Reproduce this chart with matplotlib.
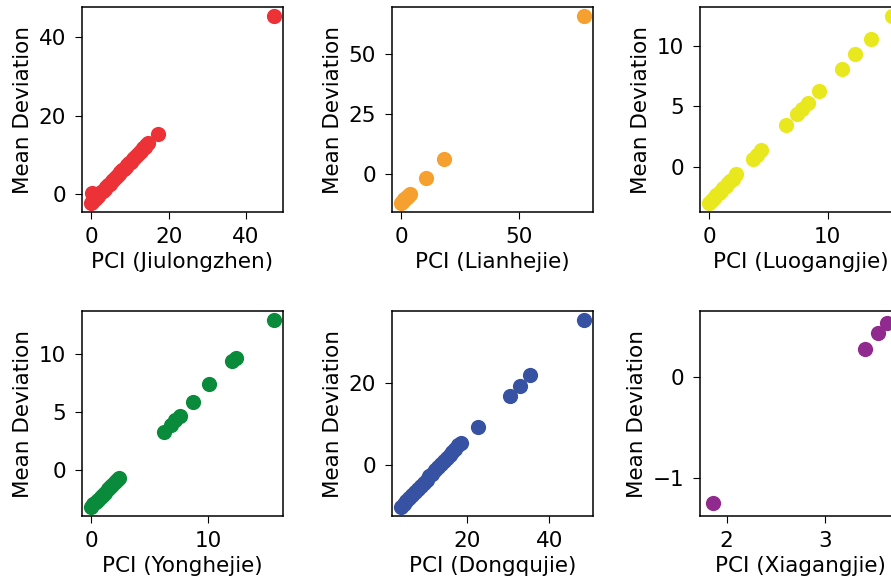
import matplotlib
matplotlib.use('Agg')
import matplotlib.pyplot as plt

# PCI vs Mean Deviation for six sites
jiu_x = [0.0, 0.1, 0.3, 0.6, 0.9, 1.3, 1.7, 2.1, 2.6, 3.0, 3.5, 3.9, 4.4, 4.8, 5.3, 5.7, 6.2, 6.6, 7.1,
         7.5, 8.0, 8.4, 8.9, 9.3, 9.8, 10.2, 10.7, 11.1, 11.6, 12.0, 12.5, 12.9, 13.4, 13.8, 14.3, 14.7, 17.2, 47.2]
jiu_y = [-2.3, 0.2, -2.0, -1.7, -1.4, -1.0, -0.6, -0.2, 0.4, 0.8, 1.3, 1.7, 2.2, 2.6, 3.2, 3.6, 4.1, 4.5, 5.1,
         5.5, 6.0, 6.4, 6.9, 7.3, 7.8, 8.2, 8.8, 9.2, 9.7, 10.1, 10.6, 11.0, 11.6, 12.0, 12.5, 12.9, 15.3, 45.4]

lian_x = [0.0, 0.4, 0.9, 1.4, 1.9, 2.4, 2.9, 3.4, 3.9, 10.7, 18.4, 77.8]
lian_y = [-11.7, -11.3, -10.8, -10.3, -9.8, -9.3, -8.8, -8.4, -8.0, -1.6, 6.2, 65.4]

luo_x = [0.0, 0.2, 0.4, 0.6, 0.8, 1.0, 1.2, 1.4, 1.6, 1.8, 2.0, 2.3, 3.7, 4.0, 4.4, 6.5, 7.4, 7.8, 8.3,
         9.3, 11.2, 12.3, 13.6, 15.4]
luo_y = [-3.0, -2.8, -2.6, -2.4, -2.2, -2.0, -1.8, -1.6, -1.4, -1.2, -1.0, -0.6, 0.65, 1.0, 1.35, 3.45, 4.4,
         4.8, 5.3, 6.25, 8.15, 9.4, 10.6, 12.5]

yong_x = [0.0, 0.2, 0.4, 0.6, 0.8, 1.0, 1.2, 1.4, 1.6, 1.8, 2.0, 2.2, 2.4, 6.2, 6.8, 7.2, 7.6, 8.7, 10.1,
          12.0, 12.4, 15.6]
yong_y = [-3.2, -3.0, -2.8, -2.6, -2.4, -2.2, -2.0, -1.7, -1.5, -1.3, -1.1, -0.9, -0.7, 3.3, 3.9, 4.3, 4.7,
          5.85, 7.4, 9.45, 9.7, 12.95]

dong_x = [3.9, 4.5, 5.2, 5.9, 6.6, 7.3, 8.0, 8.7, 9.4, 10.1, 10.8, 11.5, 12.2, 12.9, 13.6, 14.3, 15.0, 15.7,
          16.4, 17.1, 17.8, 18.5, 22.7, 30.5, 32.8, 35.4, 48.4]
dong_y = [-10.2, -9.6, -8.8, -8.1, -7.3, -6.6, -5.8, -5.1, -4.3, -3.6, -2.8, -2.1, -1.3, -0.6, 0.2, 1.0, 1.7,
          2.5, 3.2, 4.0, 4.8, 5.5, 9.2, 17.0, 19.4, 21.9, 35.4]

xia_x = [1.86, 3.40, 3.54, 3.63]
xia_y = [-1.24, 0.28, 0.43, 0.53]

names = ['Jiulongzhen', 'Lianhejie', 'Luogangjie', 'Yonghejie', 'Dongqujie', 'Xiagangjie']
xs = [jiu_x, lian_x, luo_x, yong_x, dong_x, xia_x]
ys = [jiu_y, lian_y, luo_y, yong_y, dong_y, xia_y]
colors = ['#ec3237', '#f6a030', '#e9e81e', '#0a8b3c', '#3852a3', '#912a8e']

# tick values as shown on each panel
x_ticks = [[0, 20, 40], [0, 50], [0, 10], [0, 10], [20, 40], [2, 3]]
y_ticks = [[0, 20, 40], [0, 25, 50], [0, 5, 10], [0, 5, 10], [0, 20], [-1, 0]]

plt.rcParams['font.size'] = 15.5
plt.rcParams['axes.linewidth'] = 1.1
plt.rcParams['xtick.major.size'] = 5
plt.rcParams['ytick.major.size'] = 5
plt.rcParams['xtick.major.pad'] = 5.5
plt.rcParams['ytick.major.pad'] = 6.5

fig = plt.figure(figsize=(8.91, 5.85), dpi=100)
W, H = 891, 585
lefts = [82, 392, 700]
tops = [7, 311]
aw, ah = 201, 205

for i in range(6):
    r, c = divmod(i, 3)
    ax = fig.add_axes([lefts[c] / W, 1 - (tops[r] + ah) / H, aw / W, ah / H])
    ax.scatter(xs[i], ys[i], s=120, color=colors[i], linewidths=0)
    ax.set_xlabel('PCI (' + names[i] + ')')
    ax.set_ylabel('Mean Deviation')
    if names[i] == 'Xiagangjie':
        ax.set_xlim(1.73, 3.77)
        ax.set_ylim(-1.37, 0.65)
    ax.set_xticks(x_ticks[i])
    ax.set_yticks(y_ticks[i])

fig.savefig('out.png', dpi=100)
